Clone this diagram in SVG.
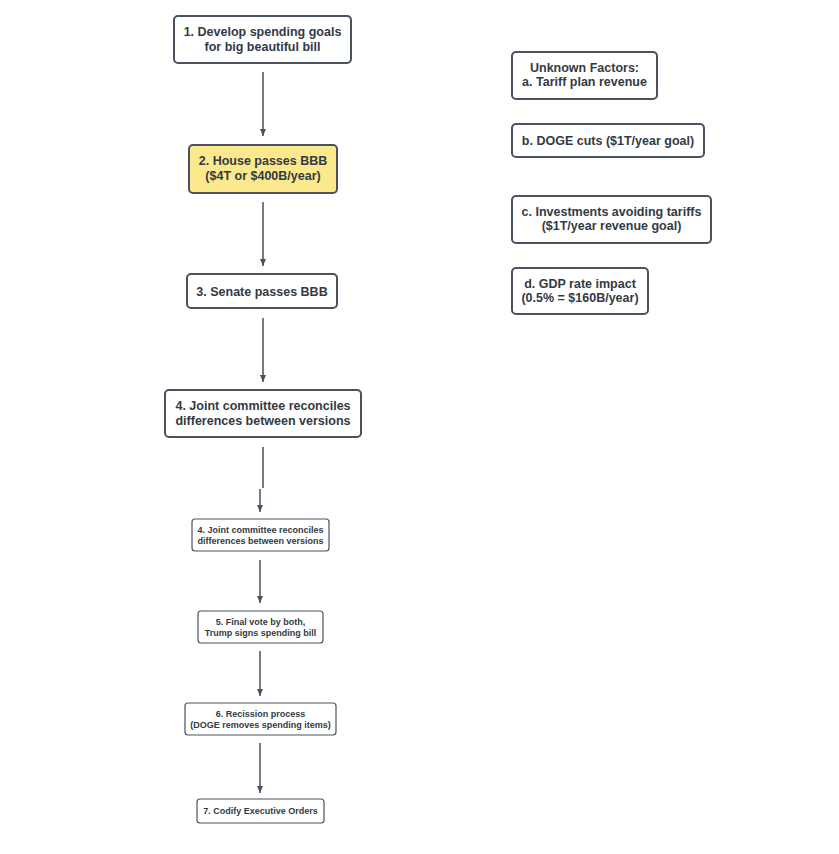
<svg xmlns="http://www.w3.org/2000/svg" width="839" height="854" viewBox="0 0 839 854">
<defs>
<marker id="arr" markerWidth="8" markerHeight="8" refX="7" refY="4" orient="auto" markerUnits="userSpaceOnUse">
<path d="M0,1 L7,4 L0,7 Z" fill="#4a5260"/>
</marker>
</defs>
<style>
.n{fill:#ffffff;stroke:#4a5260;stroke-width:2}
.s{fill:#ffffff;stroke:#4a5260;stroke-width:1.2}
.y{fill:#fce98d}
.t{font-family:"Liberation Sans",Arial,sans-serif;font-weight:bold;font-size:12.5px;fill:#333a44;text-anchor:middle}
.ts{font-family:"Liberation Sans",Arial,sans-serif;font-weight:bold;font-size:9px;fill:#333a44;text-anchor:middle}
.c{stroke:#4a5260;stroke-width:1.5;fill:none}
</style>
<rect width="839" height="854" fill="#ffffff"/>
<g id="connectors">
<line class="c" x1="263" y1="72" x2="263" y2="136" marker-end="url(#arr)"/>
<line class="c" x1="263" y1="202" x2="263" y2="266" marker-end="url(#arr)"/>
<line class="c" x1="263" y1="318" x2="263" y2="382" marker-end="url(#arr)"/>
<line class="c" x1="263" y1="447" x2="263" y2="488"/>
<line class="c" x1="260" y1="489" x2="260" y2="512" marker-end="url(#arr)"/>
<line class="c" x1="260" y1="560" x2="260" y2="603" marker-end="url(#arr)"/>
<line class="c" x1="260" y1="651" x2="260" y2="696" marker-end="url(#arr)"/>
<line class="c" x1="260" y1="743" x2="260" y2="793" marker-end="url(#arr)"/>
</g>
<g id="n1">
<rect class="n" x="174" y="16" width="177" height="47" rx="4"/>
<text class="t" x="262.5" y="36">1. Develop spending goals</text>
<text class="t" x="262.5" y="51">for big beautiful bill</text>
</g>
<g id="n2">
<rect class="n y" x="189" y="145" width="148" height="48" rx="4"/>
<text class="t" x="263" y="165">2. House passes BBB</text>
<text class="t" x="263" y="180">($4T or $400B/year)</text>
</g>
<g id="n3">
<rect class="n" x="187" y="274" width="150" height="34" rx="4"/>
<text class="t" x="262" y="295.5">3. Senate passes BBB</text>
</g>
<g id="n4">
<rect class="n" x="165" y="390" width="196" height="47" rx="4"/>
<text class="t" x="263" y="410">4. Joint committee reconciles</text>
<text class="t" x="263" y="425">differences between versions</text>
</g>
<g id="n4b">
<rect class="s" x="192" y="519" width="137" height="32" rx="3"/>
<text class="ts" x="260.5" y="533">4. Joint committee reconciles</text>
<text class="ts" x="260.5" y="543.5">differences between versions</text>
</g>
<g id="n5">
<rect class="s" x="198" y="611" width="125" height="32" rx="3"/>
<text class="ts" x="260.5" y="625">5. Final vote by both,</text>
<text class="ts" x="260.5" y="635.5">Trump signs spending bill</text>
</g>
<g id="n6">
<rect class="s" x="185" y="703" width="151" height="32" rx="3"/>
<text class="ts" x="260.5" y="717">6. Recission process</text>
<text class="ts" x="260.5" y="727.5">(DOGE removes spending items)</text>
</g>
<g id="n7">
<rect class="s" x="197" y="799" width="127" height="24" rx="3"/>
<text class="ts" x="260.5" y="814">7. Codify Executive Orders</text>
</g>
<g id="fa">
<rect class="n" x="512" y="52" width="145" height="47" rx="4"/>
<text class="t" x="584.5" y="72">Unknown Factors:</text>
<text class="t" x="584.5" y="86">a. Tariff plan revenue</text>
</g>
<g id="fb">
<rect class="n" x="512" y="124" width="192" height="33" rx="4"/>
<text class="t" x="608" y="145">b. DOGE cuts ($1T/year goal)</text>
</g>
<g id="fc">
<rect class="n" x="512" y="196" width="199" height="47" rx="4"/>
<text class="t" x="611.5" y="216">c. Investments avoiding tariffs</text>
<text class="t" x="611.5" y="230">($1T/year revenue goal)</text>
</g>
<g id="fd">
<rect class="n" x="512" y="268" width="136" height="46" rx="4"/>
<text class="t" x="580" y="288">d. GDP rate impact</text>
<text class="t" x="580" y="302">(0.5% = $160B/year)</text>
</g>
</svg>
